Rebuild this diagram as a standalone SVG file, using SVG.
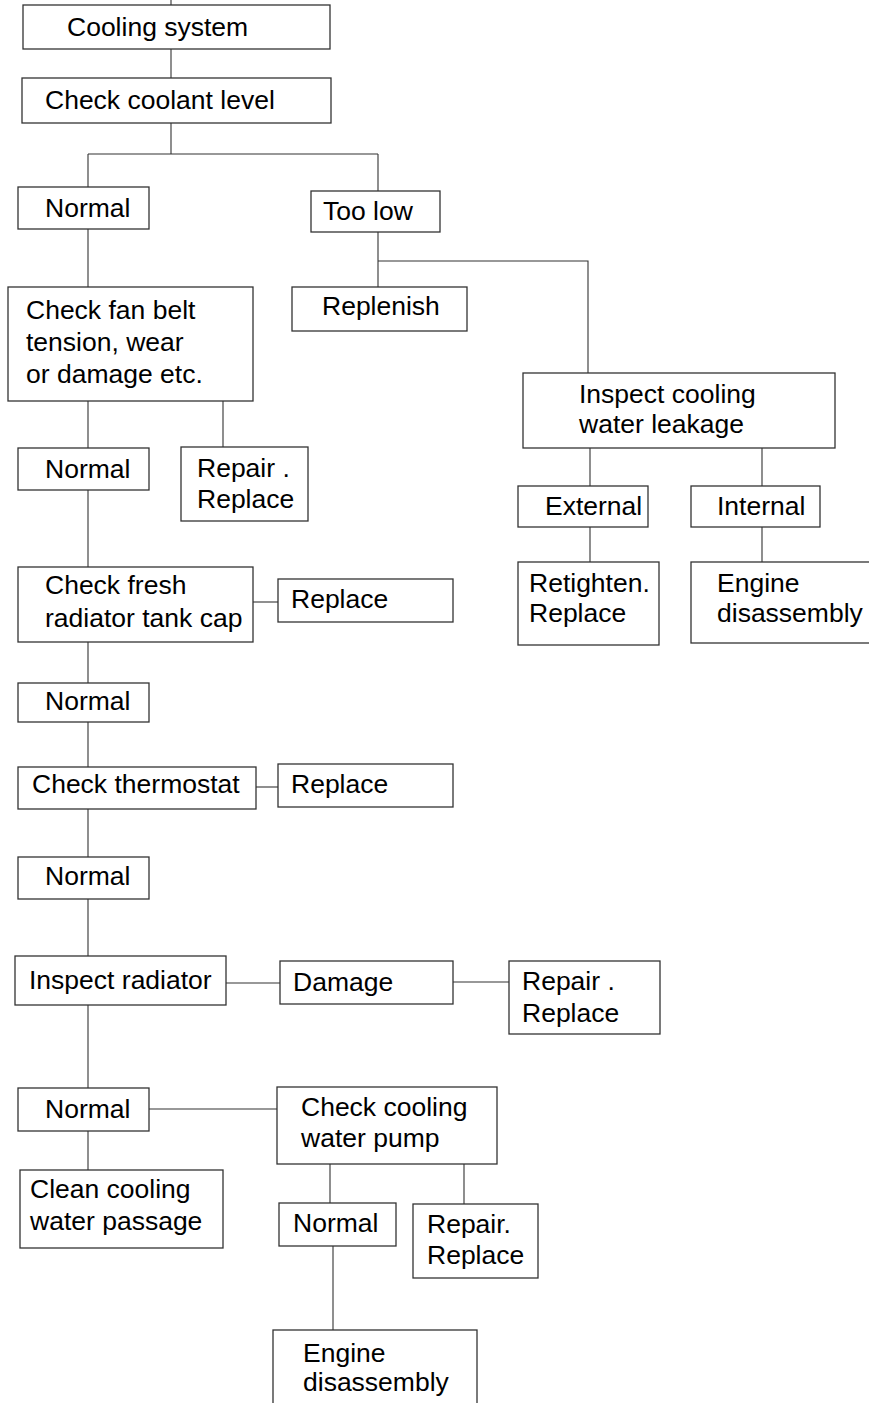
<svg xmlns="http://www.w3.org/2000/svg" width="869" height="1403" viewBox="0 0 869 1403">
<style>
rect{fill:#fff;stroke:#333;stroke-width:1.3}
text{font-family:"Liberation Sans",Arial,sans-serif;font-size:26.5px;fill:#000}
#connectors path{fill:none;stroke:#333;stroke-width:1.1}
</style>
<rect x="0" y="0" width="869" height="1403" style="fill:#fff;stroke:none"/>
<g id="connectors">
<path d="M171 0V5"/>
<path d="M171 49V78"/>
<path d="M171 123V154M88 154H378M88 154V187M378 154V191"/>
<path d="M88 229V287"/>
<path d="M378 232V287M378 261H588V373"/>
<path d="M88 401V448M223 401V447"/>
<path d="M590 448V486M762 448V486"/>
<path d="M590 527V562M762 527V562"/>
<path d="M88 490V567"/>
<path d="M253 602H278"/>
<path d="M88 642V683M88 722V767"/>
<path d="M256 787H278"/>
<path d="M88 809V857M88 899V956"/>
<path d="M226 983H280M453 982H509"/>
<path d="M88 1005V1088"/>
<path d="M149 1109H277"/>
<path d="M88 1131V1170"/>
<path d="M330 1164V1203M464 1164V1204"/>
<path d="M333 1246V1330"/>
</g>
<g id="cooling-system"><rect x="23" y="5" width="307" height="44"/><text x="67" y="36">Cooling system</text></g>
<g id="check-coolant"><rect x="22" y="78" width="309" height="45"/><text x="45" y="109">Check coolant level</text></g>
<g id="normal-1"><rect x="18" y="187" width="131" height="42"/><text x="45" y="217">Normal</text></g>
<g id="too-low"><rect x="311" y="191" width="129" height="41"/><text x="323" y="220">Too low</text></g>
<g id="fan-belt"><rect x="8" y="287" width="245" height="114"/><text x="26" y="319">Check fan belt</text><text x="26" y="351">tension, wear</text><text x="26" y="383">or damage etc.</text></g>
<g id="replenish"><rect x="292" y="287" width="175" height="44"/><text x="322" y="315">Replenish</text></g>
<g id="inspect-leak"><rect x="523" y="373" width="312" height="75"/><text x="579" y="403">Inspect cooling</text><text x="579" y="433">water leakage</text></g>
<g id="external"><rect x="518" y="486" width="130" height="41"/><text x="545" y="515">External</text></g>
<g id="internal"><rect x="691" y="486" width="129" height="41"/><text x="717" y="515">Internal</text></g>
<g id="retighten"><rect x="518" y="562" width="141" height="83"/><text x="529" y="592">Retighten.</text><text x="529" y="622">Replace</text></g>
<g id="engine-1"><rect x="691" y="562" width="190" height="81"/><text x="717" y="592">Engine</text><text x="717" y="622">disassembly</text></g>
<g id="normal-2"><rect x="18" y="448" width="131" height="42"/><text x="45" y="478">Normal</text></g>
<g id="repair-1"><rect x="181" y="447" width="127" height="74"/><text x="197" y="477">Repair .</text><text x="197" y="508">Replace</text></g>
<g id="fresh-cap"><rect x="18" y="567" width="235" height="75"/><text x="45" y="594">Check fresh</text><text x="45" y="627">radiator tank cap</text></g>
<g id="replace-1"><rect x="278" y="579" width="175" height="43"/><text x="291" y="608">Replace</text></g>
<g id="normal-3"><rect x="18" y="683" width="131" height="39"/><text x="45" y="710">Normal</text></g>
<g id="thermostat"><rect x="18" y="767" width="238" height="42"/><text x="32" y="793">Check thermostat</text></g>
<g id="replace-2"><rect x="278" y="764" width="175" height="43"/><text x="291" y="793">Replace</text></g>
<g id="normal-4"><rect x="18" y="857" width="131" height="42"/><text x="45" y="885">Normal</text></g>
<g id="inspect-radiator"><rect x="15" y="956" width="211" height="49"/><text x="29" y="989">Inspect radiator</text></g>
<g id="damage"><rect x="280" y="961" width="173" height="43"/><text x="293" y="991">Damage</text></g>
<g id="repair-2"><rect x="509" y="961" width="151" height="73"/><text x="522" y="990">Repair .</text><text x="522" y="1022">Replace</text></g>
<g id="normal-5"><rect x="18" y="1088" width="131" height="43"/><text x="45" y="1118">Normal</text></g>
<g id="check-pump"><rect x="277" y="1087" width="220" height="77"/><text x="301" y="1116">Check cooling</text><text x="301" y="1147">water pump</text></g>
<g id="clean"><rect x="20" y="1170" width="203" height="78"/><text x="30" y="1198">Clean cooling</text><text x="30" y="1230">water passage</text></g>
<g id="normal-6"><rect x="279" y="1203" width="117" height="43"/><text x="293" y="1232">Normal</text></g>
<g id="repair-3"><rect x="413" y="1204" width="125" height="74"/><text x="427" y="1233">Repair.</text><text x="427" y="1264">Replace</text></g>
<g id="engine-2"><rect x="273" y="1330" width="204" height="100"/><text x="303" y="1362">Engine</text><text x="303" y="1391">disassembly</text></g>
</svg>
